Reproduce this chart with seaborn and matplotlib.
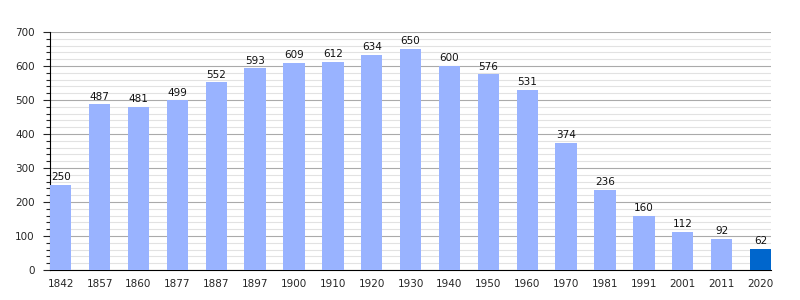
import matplotlib
matplotlib.use("Agg")
import matplotlib.pyplot as plt
import seaborn as sns
import pandas as pd
from matplotlib.ticker import MultipleLocator

years = ["1842", "1857", "1860", "1877", "1887", "1897", "1900", "1910", "1920", "1930",
         "1940", "1950", "1960", "1970", "1981", "1991", "2001", "2011", "2020"]
population = [250, 487, 481, 499, 552, 593, 609, 612, 634, 650,
              600, 576, 531, 374, 236, 160, 112, 92, 62]

df = pd.DataFrame({"year": years, "pop": population})
colors = ["#99b3ff"] * (len(years) - 1) + ["#0066cc"]

sns.set_style("white")
plt.rcParams['font.family'] = ['DejaVu Sans']

fig = plt.figure(figsize=(8, 3), dpi=100)
ax = fig.add_axes([0.0625, 0.1, 0.9015, 0.793])

sns.barplot(data=df, x="year", y="pop", hue="year", palette=colors, legend=False,
            width=0.55, ax=ax, saturation=1, zorder=3, linewidth=0)

ax.set_ylim(0, 700)
ax.set_xlim(-0.275, len(years) - 1 + 0.275)
ax.yaxis.set_major_locator(MultipleLocator(100))
ax.yaxis.set_minor_locator(MultipleLocator(20))
ax.grid(axis="y", which="major", color="#aaaaaa", linewidth=0.8, zorder=0)
ax.grid(axis="y", which="minor", color="#e2e2e2", linewidth=0.8, zorder=0)
ax.set_axisbelow(True)

for i, v in enumerate(population):
    ax.text(i, v + 8, str(v), ha="center", va="bottom", fontsize=7.5, color="#111111", zorder=4)

for s in ["top", "right"]:
    ax.spines[s].set_visible(False)
ax.spines["left"].set_color("black")
ax.spines["bottom"].set_color("black")
ax.tick_params(axis="y", which="major", left=True, length=5, width=0.8, labelsize=7.5, pad=6)
ax.tick_params(axis="y", which="minor", left=True, length=3, width=0.8)
ax.tick_params(axis="x", bottom=False, labelsize=7.5, pad=3)
ax.set_xlabel("")
ax.set_ylabel("")

fig.savefig("out.png", dpi=100)
